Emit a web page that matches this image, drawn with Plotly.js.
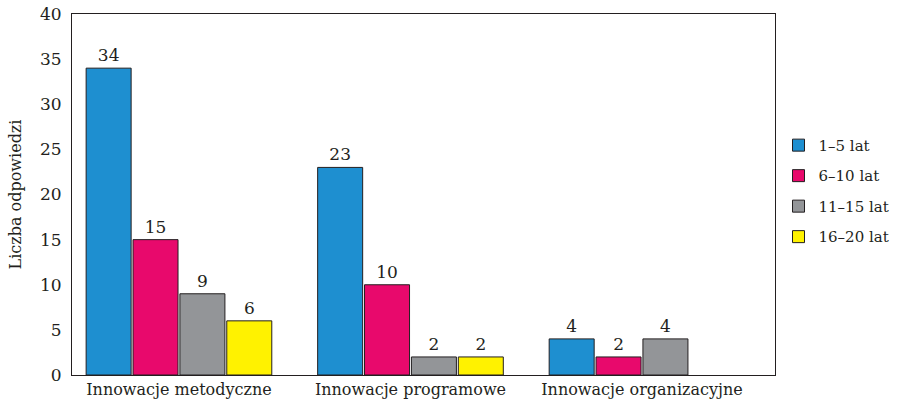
<!DOCTYPE html>
<html><head><meta charset="utf-8">
<script src="https://cdn.plot.ly/plotly-3.0.1.min.js"></script>
<style>body{margin:0;background:#fff}#c{width:903px;height:406px}</style>
</head><body><div id="c"></div>
<script>
const categories = ["Innowacje metodyczne", "Innowacje programowe", "Innowacje organizacyjne"];
const seriesNames = ["1–5 lat", "6–10 lat", "11–15 lat", "16–20 lat"];
const s1 = [34, 23, 4];
const s2 = [15, 10, 2];
const s3 = [9, 2, 4];
const s4 = [6, 2, null];
const colors = ["#1e8fd0", "#e8096c", "#939598", "#fff200"];
const yTicks = [0, 5, 10, 15, 20, 25, 30, 35, 40];

const font = "DejaVu Serif";
const data = [s1, s2, s3, s4].map((v, i) => ({
  type: "bar", x: categories, y: v, name: seriesNames[i], legendgroup: "g" + i,
  marker: {color: colors[i], line: {color: "#231f20", width: 1}},
  text: v.map(a => a === null ? "" : String(a)), textposition: "outside",
  textfont: {family: font, size: 17, color: "#231f20"},
  cliponaxis: false
}));
const layout = {
  width: 903, height: 406,
  margin: {l: 72, r: 128, t: 14, b: 31, autoexpand: false},
  paper_bgcolor: "#fff", plot_bgcolor: "#fff",
  barmode: "group", bargap: 0.19, bargroupgap: 0.04,
  font: {family: font, size: 16, color: "#231f20"},
  xaxis: {range: [-0.462, 2.5745], showline: true, mirror: true, linecolor: "#231f20", linewidth: 1,
          ticks: "", showgrid: false, tickfont: {family: font, size: 16}},
  yaxis: {range: [0, 40], tickvals: yTicks, showline: true, mirror: true, linecolor: "#231f20", linewidth: 1,
          ticks: "", showgrid: false, zeroline: false, tickfont: {family: font, size: 17}, ticklabelstandoff: 6,
          title: {text: "Liczba odpowiedzi", font: {family: font, size: 16}, standoff: 14}},
  legend: {x: 1.005, xanchor: "left", y: 0.51, yanchor: "middle", font: {family: font, size: 15},
           bgcolor: "rgba(0,0,0,0)", traceorder: "grouped", tracegroupgap: 8},
  showlegend: true
};
Plotly.newPlot("c", data, layout, {staticPlot: true});
</script></body></html>
